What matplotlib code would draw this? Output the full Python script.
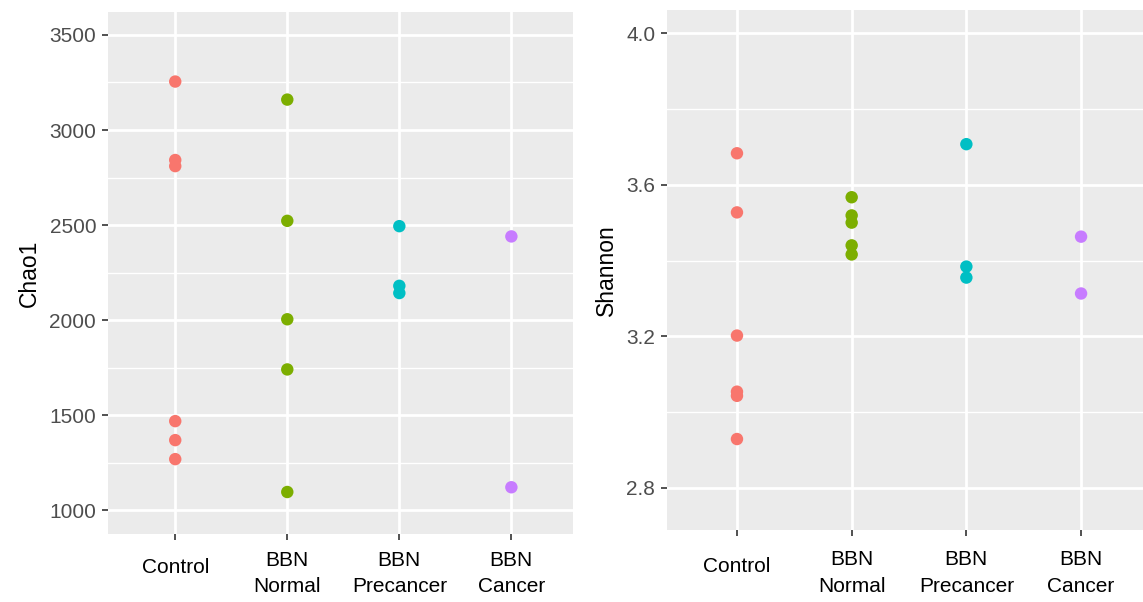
import matplotlib.pyplot as plt
import numpy as np

groups = ['Control', 'BBN\nNormal', 'BBN\nPrecancer', 'BBN\nCancer']
colors = ['#F8766D', '#7CAE00', '#00BFC4', '#C77CFF']

chao1 = [
    [3255, 2842, 2810, 1468, 1368, 1268],
    [3160, 2522, 2004, 1740, 1095],
    [2494, 2180, 2142],
    [2440, 1120],
]
shannon = [
    [3.683, 3.527, 3.202, 3.054, 3.043, 2.929],
    [3.567, 3.519, 3.500, 3.440, 3.416],
    [3.707, 3.384, 3.355],
    [3.463, 3.313],
]

plt.rcParams['font.family'] = ['Liberation Sans', 'DejaVu Sans']

fig = plt.figure(figsize=(11.43, 6.02), dpi=100)
ax1 = fig.add_axes([108/1143, 1-534/602, 465/1143, 522/602])
ax2 = fig.add_axes([667/1143, 1-530/602, 476/1143, 520/602])


def panel(ax, data, ylab, yticks, minor, ylim, xlim, fmt, xpad):
    ax.set_facecolor('#EBEBEB')
    for s in ax.spines.values():
        s.set_visible(False)
    for m in minor:
        ax.axhline(m, color='white', lw=1.0, zorder=0)
    for t in yticks:
        ax.axhline(t, color='white', lw=2.0, zorder=0)
    for i in range(len(groups)):
        ax.axvline(i + 1, color='white', lw=2.0, zorder=0)
    for i, vals in enumerate(data):
        ax.scatter(np.full(len(vals), i + 1), vals, s=80, color=colors[i],
                   edgecolors='none', zorder=3)
    ax.set_xlim(*xlim)
    ax.set_ylim(*ylim)
    ax.set_yticks(yticks)
    ax.set_yticklabels([fmt.format(t) for t in yticks])
    ax.set_xticks(range(1, len(groups) + 1))
    ax.set_xticklabels(groups, linespacing=1.5)
    ax.tick_params(axis='y', colors='#333333', labelcolor='#4D4D4D',
                   labelsize=15, length=4.5, width=1.2, pad=4)
    ax.tick_params(axis='x', colors='#333333', labelcolor='black',
                   labelsize=15, length=4, width=1.2, pad=xpad)
    # single-line label sits a bit lower than the two-line ones
    ax.get_xticklabels()[0].set_y(-7 / 520)
    ax.set_ylabel(ylab, fontsize=16.5, labelpad=6)


panel(ax1, chao1, 'Chao1', [1000, 1500, 2000, 2500, 3000, 3500],
      [1250, 1750, 2250, 2750, 3250], (874, 3621), (0.40, 4.55), '{:.0f}', 8)
panel(ax2, shannon, 'Shannon', [2.8, 3.2, 3.6, 4.0],
      [3.0, 3.4, 3.8], (2.689, 4.061), (0.39, 4.54), '{:.1f}', 10.5)

fig.savefig('out.png', dpi=100)
